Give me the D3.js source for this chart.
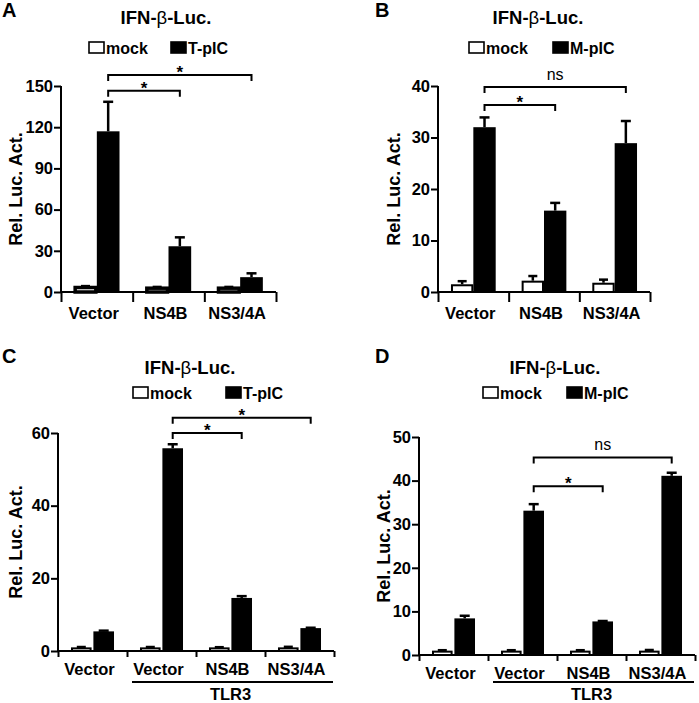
<!DOCTYPE html>
<html><head><meta charset="utf-8">
<script src="https://cdn.jsdelivr.net/npm/d3@7"></script>
<style>
body{margin:0;background:#fff;}
svg{display:block;font-family:"Liberation Sans",Arial,Helvetica,sans-serif;}
</style></head><body>
<svg id="c" width="699" height="703"></svg>
<script>
// ---------- data ----------
const catsAB = ["Vector", "NS4B", "NS3/4A"];
const catsCD = ["Vector", "Vector", "NS4B", "NS3/4A"];

const mockA = [4, 3.5, 3.5];
const mockAErr = [0.3, 0.2, 0.2];
const tpicA = [117, 33.3, 10.8];
const tpicAErr = [21.5, 6.5, 2.8];
const ticksA = [0, 30, 60, 90, 120, 150];

const mockB = [1.5, 2.2, 1.8];
const mockBErr = [0.6, 0.9, 0.6];
const mpicB = [32, 15.8, 28.9];
const mpicBErr = [1.9, 1.5, 4.3];
const ticksB = [0, 10, 20, 30, 40];

const mockC = [1, 1, 1, 1];
const mockCErr = [0.1, 0.1, 0.05, 0.15];
const tpicC = [5.4, 55.8, 14.6, 6.3];
const tpicCErr = [0.2, 1.1, 0.5, 0.1];
const ticksC = [0, 20, 40, 60];

const mockD = [1, 1, 1, 1];
const mockDErr = [0.1, 0.1, 0.1, 0.15];
const mpicD = [8.4, 33.1, 7.7, 41.1];
const mpicDErr = [0.6, 1.5, 0.1, 0.7];
const ticksD = [0, 10, 20, 30, 40, 50];

// significance brackets: from group, to group, label, height (data units)
const sigA = [{from: 0, to: 1, label: "*", at: 146.5}, {from: 0, to: 2, label: "*", at: 158}];
const sigB = [{from: 0, to: 1, label: "*", at: 36.3}, {from: 0, to: 2, label: "ns", at: 39.8}];
const sigC = [{from: 1, to: 2, label: "*", at: 60}, {from: 1, to: 3, label: "*", at: 64.2}];
const sigD = [{from: 1, to: 2, label: "*", at: 38.7}, {from: 1, to: 3, label: "ns", at: 45.3}];

const yLabel = "Rel. Luc. Act.";

// ---------- layout ----------
const panels = [
  {letter: "A", cats: catsAB, mock: mockA, mockErr: mockAErr, pic: tpicA, picErr: tpicAErr, picName: "T-pIC",
   ticks: ticksA, sig: sigA, L: 61, R: 276, T: 86, B: 292, tick: 10, gap: 0, lx: 2, ly: 17,
   tx: 166, ty: 24, legY: 42, legX: [89, 171], ylx: 16, tlr3: false, mockStroke: 3.5},
  {letter: "B", cats: catsAB, mock: mockB, mockErr: mockBErr, pic: mpicB, picErr: mpicBErr, picName: "M-pIC",
   ticks: ticksB, sig: sigB, L: 438, R: 650, T: 86, B: 292, tick: 10, gap: 0, lx: 375, ly: 17,
   tx: 538, ty: 24, legY: 42, legX: [469, 553], ylx: 394, tlr3: false, mockStroke: 2},
  {letter: "C", cats: catsCD, mock: mockC, mockErr: mockCErr, pic: tpicC, picErr: tpicCErr, picName: "T-pIC",
   ticks: ticksC, sig: sigC, L: 58, R: 334, T: 433, B: 651, tick: 6, gap: 0.08, lx: 2, ly: 363,
   tx: 190, ty: 374, legY: 387, legX: [133, 226], ylx: 16, tlr3: true, mockStroke: 2},
  {letter: "D", cats: catsCD, mock: mockD, mockErr: mockDErr, pic: mpicD, picErr: mpicDErr, picName: "M-pIC",
   ticks: ticksD, sig: sigD, L: 419, R: 695, T: 437, B: 655, tick: 6, gap: 0.08, lx: 375, ly: 363,
   tx: 555, ty: 374, legY: 387, legX: [483, 567], ylx: 384, tlr3: true, mockStroke: 2}
];

const svg = d3.select("#c");

panels.forEach(p => {
  const g = svg.append("g");
  const y = d3.scaleLinear().domain([0, d3.max(p.ticks)]).range([p.B, p.T]);
  const x = d3.scaleBand().domain(d3.range(p.cats.length)).range([p.L, p.R]).padding(0);
  const sub = d3.scaleBand().domain(["mock", "pic"]).range([0, x.bandwidth()])
    .paddingInner(p.gap).paddingOuter(0.58);

  // panel letter
  g.append("text").attr("x", p.lx).attr("y", p.ly).attr("font-size", 20).attr("font-weight", "bold").text(p.letter);
  // title
  const t = g.append("text").attr("x", p.tx).attr("y", p.ty).attr("text-anchor", "middle")
    .attr("font-size", 18.5).attr("font-weight", "bold");
  t.append("tspan").text("IFN-");
  t.append("tspan").attr("font-weight", "normal").text("β");
  t.append("tspan").text("-Luc.");

  // legend
  const legItems = [{name: "mock", fill: "#fff"}, {name: p.picName, fill: "#000"}];
  legItems.forEach((it, i) => {
    g.append("rect").attr("x", p.legX[i]).attr("y", p.legY).attr("width", 15).attr("height", 11)
      .attr("fill", it.fill).attr("stroke", "#000").attr("stroke-width", 1.6);
    g.append("text").attr("x", p.legX[i] + 17).attr("y", p.legY + 11.5).attr("font-size", 16)
      .attr("font-weight", "bold").text(it.name);
  });

  // bars
  const series = [
    {key: "mock", vals: p.mock, errs: p.mockErr, fill: "#fff", cap: 9, sw: p.mockStroke},
    {key: "pic", vals: p.pic, errs: p.picErr, fill: "#000", cap: 10, sw: 2}
  ];
  series.forEach(s => {
    s.vals.forEach((v, i) => {
      const bx = x(i) + sub(s.key), bw = sub.bandwidth();
      const cx = bx + bw / 2;
      const ye = y(v + s.errs[i]);
      g.append("line").attr("x1", cx).attr("x2", cx).attr("y1", y(v)).attr("y2", ye)
        .attr("stroke", "#000").attr("stroke-width", 2.5);
      g.append("line").attr("x1", cx - s.cap / 2).attr("x2", cx + s.cap / 2).attr("y1", ye).attr("y2", ye)
        .attr("stroke", "#000").attr("stroke-width", 2.5);
      g.append("rect").attr("x", bx + 1).attr("y", y(v) + 1).attr("width", bw - 2)
        .attr("height", Math.max(0, y(0) - y(v) - 1))
        .attr("fill", s.fill).attr("stroke", "#000").attr("stroke-width", s.sw);
    });
  });

  // y axis
  const ya = d3.axisLeft(y).tickValues(p.ticks).tickSize(7).tickPadding(1).tickFormat(d3.format("d"));
  const yg = g.append("g").attr("transform", `translate(${p.L},0)`).call(ya);
  yg.select(".domain").attr("stroke-width", 2).attr("d", `M0,${p.T}V${p.B}`);
  yg.selectAll(".tick line").attr("stroke-width", 2);
  yg.selectAll(".tick text").attr("font-size", 16.5).attr("font-weight", "bold")
    .attr("font-family", '"Liberation Sans",Arial,sans-serif').attr("fill", "#000");

  // x axis with boundary ticks
  const xb = d3.scaleLinear().domain([0, p.cats.length]).range([p.L, p.R]);
  const xa = d3.axisBottom(xb).tickValues(d3.range(p.cats.length + 1)).tickSize(p.tick).tickFormat("");
  const xg = g.append("g").attr("transform", `translate(0,${p.B})`).call(xa);
  xg.select(".domain").attr("stroke-width", 2).attr("d", `M${p.L - 1},0H${p.R}`);
  xg.selectAll(".tick line").attr("stroke-width", 2);

  // category labels
  p.cats.forEach((c, i) => {
    g.append("text").attr("x", x(i) + x.bandwidth() / 2 - 3).attr("y", p.B + (p.tlr3 ? 24 : 27))
      .attr("text-anchor", "middle").attr("font-size", 16.5).attr("font-weight", "bold").text(c);
  });

  // TLR3 underline
  if (p.tlr3) {
    g.append("line").attr("x1", x(1) + 5).attr("x2", p.R - 1).attr("y1", 682).attr("y2", 682)
      .attr("stroke", "#000").attr("stroke-width", 2);
    g.append("text").attr("x", (x(1) + p.R) / 2).attr("y", 700).attr("text-anchor", "middle")
      .attr("font-size", 16.5).attr("font-weight", "bold").text("TLR3");
  }

  // y label
  g.append("text").attr("transform", `translate(${p.ylx + 6},${(p.T + p.B) / 2}) rotate(-90)`)
    .attr("text-anchor", "middle").attr("font-size", 18).attr("font-weight", "bold").text(yLabel);

  // significance brackets
  p.sig.forEach(s => {
    const x1 = x(s.from) + sub("pic") + sub.bandwidth() / 2;
    const x2 = x(s.to) + sub("pic") + sub.bandwidth() / 2;
    const yy = y(s.at);
    g.append("path").attr("d", `M${x1},${yy + 6}V${yy}H${x2}V${yy + 6}`)
      .attr("fill", "none").attr("stroke", "#000").attr("stroke-width", 2);
    const isStar = s.label === "*";
    g.append("text").attr("x", (x1 + x2) / 2).attr("y", isStar ? yy + 3 : yy - 7)
      .attr("text-anchor", "middle").attr("font-size", isStar ? 17 : 16)
      .attr("font-weight", isStar ? "bold" : "normal").text(s.label);
  });
});
</script>
</body></html>
